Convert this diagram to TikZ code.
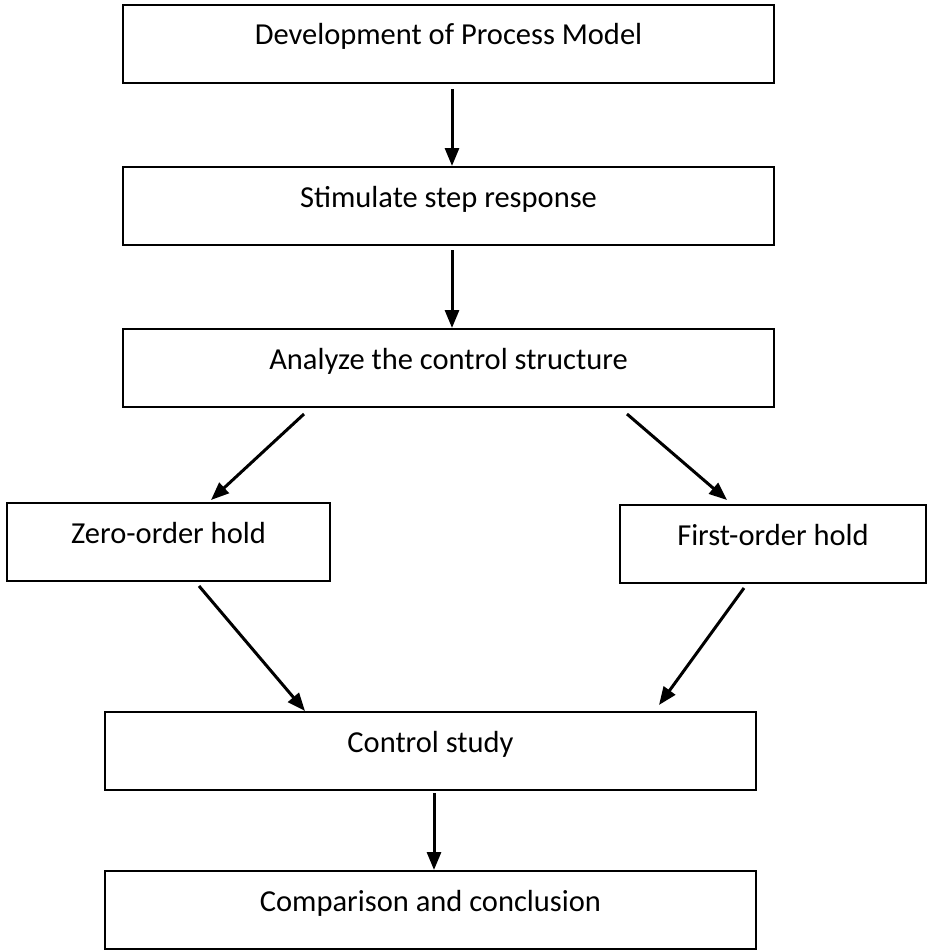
\documentclass[tikz,border=0pt]{standalone}
\usepackage{fontspec}
\setmainfont{Carlito}
\usetikzlibrary{arrows.meta}

\tikzset{
	box/.style={draw, line width=2pt, anchor=north west, inner sep=0pt,
		text height=40pt, text depth=38pt, font=\fontsize{30.5}{36}\selectfont},
	flow/.style={line width=3pt, -{Triangle[length=18pt,width=14pt]}}
}

\begin{document}
\begin{tikzpicture}[x=1pt, y=-1pt]
			%%%%% START %%%%%
			
			\useasboundingbox (0, 0) rectangle (926, 950);
			
			\node[box, minimum width=651pt] (dev) at (122, 4) {Development of Process Model};
			\node[box, minimum width=651pt] (stim) at (122, 166) {Stimulate step response};
			\node[box, minimum width=651pt] (analyze) at (122, 328) {Analyze the control structure};
			
			\node[box, minimum width=323pt] (zoh) at (6, 502) {Zero-order hold};
			\node[box, minimum width=306pt] (foh) at (619, 504) {First-order hold};
			
			\node[box, minimum width=651pt] (study) at (104, 711) {Control study};
			\node[box, minimum width=651pt] (concl) at (104, 870) {Comparison and conclusion};
			
			\draw[flow] ([xshift=3.5pt, yshift=-5pt]dev.south) -- ([xshift=3.5pt]stim.north);
			\draw[flow] ([xshift=3.5pt, yshift=-4pt]stim.south) -- ([xshift=3.5pt]analyze.north);
			
			\draw[flow] ([xshift=-144.5pt, yshift=-6pt]analyze.south) -- ([xshift=42.5pt, yshift=2pt]zoh.north);
			\draw[flow] ([xshift=178.5pt, yshift=-6pt]analyze.south) -- ([xshift=-46pt, yshift=4pt]foh.north);
			
			\draw[flow] ([xshift=30.5pt, yshift=-4pt]zoh.south) -- ([xshift=-125.5pt]study.north);
			\draw[flow] ([xshift=-29pt, yshift=-4pt]foh.south) -- ([xshift=228.5pt, yshift=6pt]study.north);
			
			\draw[flow] ([xshift=3.5pt, yshift=-2pt]study.south) -- ([xshift=3.5pt]concl.north);
			
			%%%%% END %%%%%
\end{tikzpicture}
\end{document}
